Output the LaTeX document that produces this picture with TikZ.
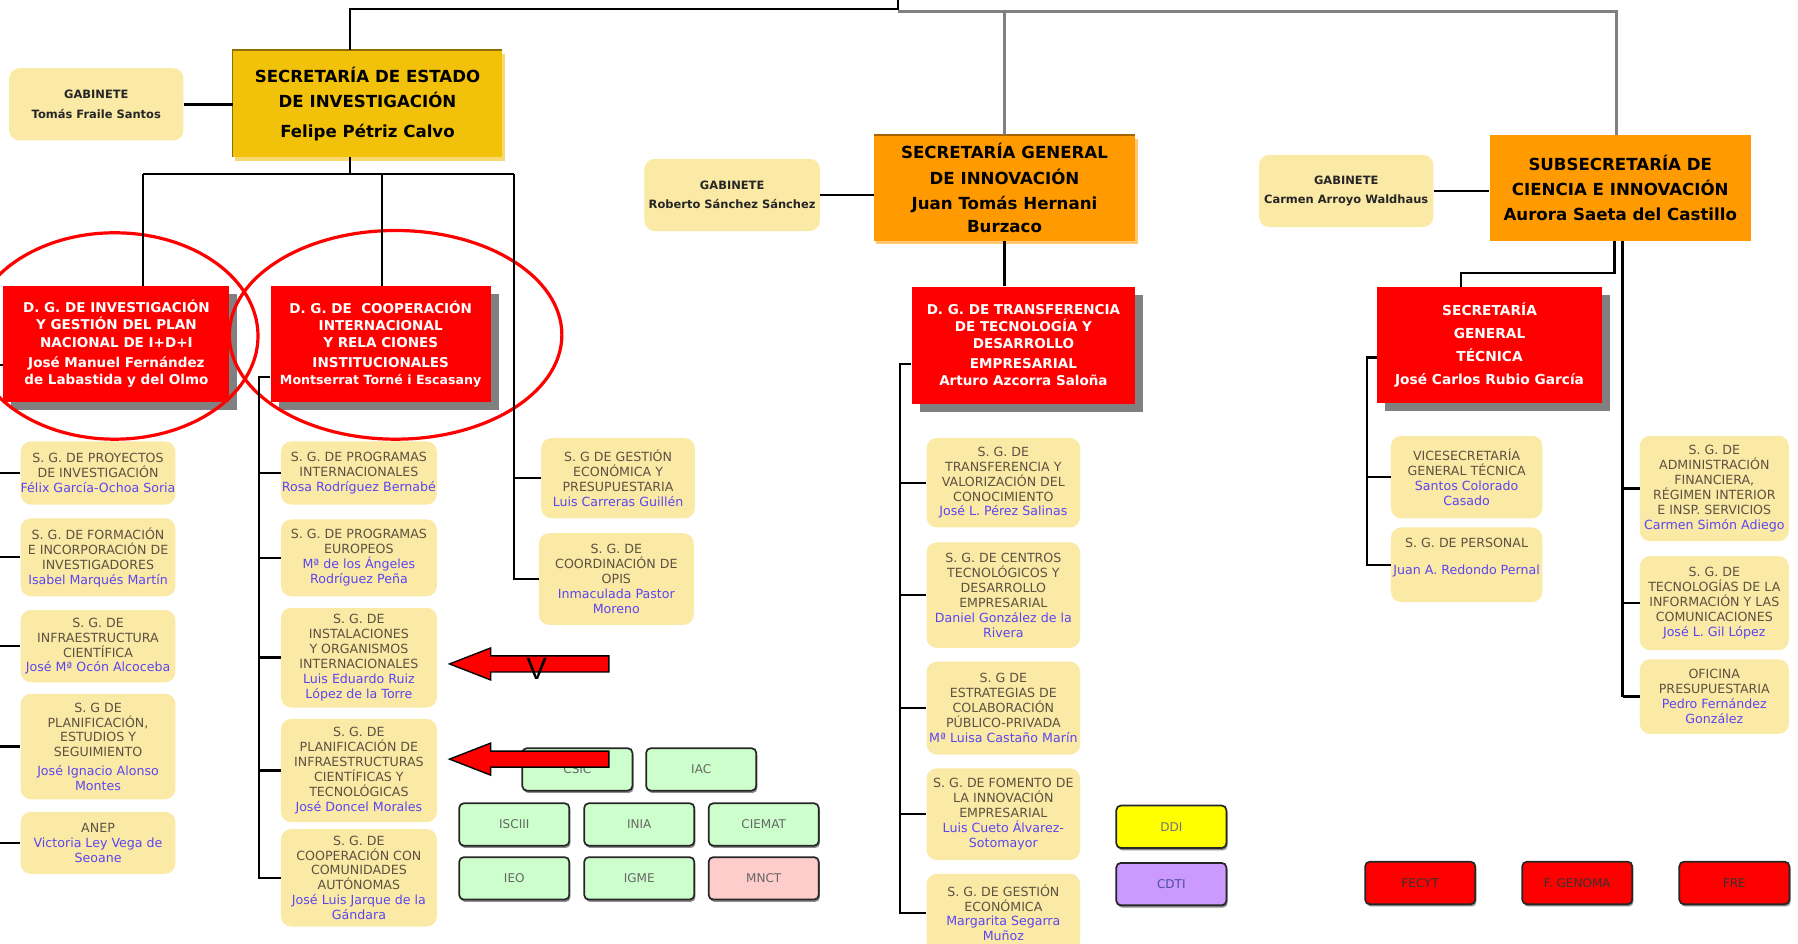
\documentclass[tikz,border=0pt]{standalone}
\usepackage{fontspec}
\setmainfont{DejaVu Sans}
\newfontfamily\vfont{Liberation Sans}
\usetikzlibrary{calc,shadows}
\definecolor{gold}{HTML}{F2C10A}
\definecolor{goldbd}{HTML}{8C7000}
\definecolor{goldsh}{HTML}{F8D870}
\definecolor{orng}{HTML}{FF9A00}
\definecolor{orngbd}{HTML}{A86400}
\definecolor{orngsh}{HTML}{FFC870}
\definecolor{sgfill}{HTML}{FBE9A6}
\definecolor{sgtext}{HTML}{5E5240}
\definecolor{sgname}{HTML}{5B46F0}
\definecolor{grn}{HTML}{CCFFCC}
\definecolor{pnk}{HTML}{FFCCCC}
\definecolor{ylw}{HTML}{FFFF00}
\definecolor{prp}{HTML}{CC99FF}
\newcommand\hdf{\fontsize{14.5}{22}\selectfont\bfseries}
\newcommand\rdf{\fontsize{11.8}{15}\selectfont\bfseries}
\newcommand\sgf{\fontsize{11}{13}\selectfont}
\newcommand\gbf{\fontsize{10}{17}\selectfont\bfseries}
\newcommand\smf{\fontsize{10.5}{11}\selectfont}
\newcommand\nm[1]{\textcolor{sgname}{#1}}
\tikzset{
  conn/.style={draw=black,line width=2},
  gconn/.style={draw=black!50,line width=2.5},
  sgbox/.style={fill=sgfill,rounded corners=9pt,align=center,inner sep=0pt,text=sgtext,font=\sgf,minimum width=135,minimum height=55},
  gabbox/.style={fill=sgfill,rounded corners=9pt,align=center,inner sep=0pt,text=black!85,font=\gbf,minimum width=152,minimum height=63},
  redbox/.style={fill=red,align=center,inner sep=0pt,text=white,font=\rdf,minimum width=196,minimum height=101,
    drop shadow={shadow xshift=7pt,shadow yshift=-7pt,fill=black!50,opacity=1}},
  instbox/.style={draw=black!85,line width=1.5,rounded corners=4pt,align=center,inner sep=0pt,text=black!60,font=\smf,minimum width=96,minimum height=37,
    drop shadow={shadow xshift=1pt,shadow yshift=-2pt,fill=black!45,opacity=1}},
  arrowshape/.style={fill=red,draw=black,line width=1.2,line join=miter},
  oval/.style={draw=red,line width=2.8}
}
\begin{document}
\begin{tikzpicture}[x=1pt,y=-1pt]
\useasboundingbox (0,0) rectangle (1568,823);
\fill[white] (0,0) rectangle (1568,823);

% ---------- top level boxes ----------
\node[fill=gold,align=center,inner sep=0pt,font=\hdf,minimum width=235,minimum height=93,
  drop shadow={shadow xshift=2pt,shadow yshift=-3pt,fill=goldsh,opacity=1}] (sei) at (320.5,90.5)
  {SECRETARÍA DE ESTADO\\DE INVESTIGACIÓN\\[4pt]Felipe Pétriz Calvo};
\draw[goldbd,line width=1.5] (sei.south west) -- (sei.north west) -- (sei.north east);

\node[fill=orng,align=center,inner sep=0pt,font=\hdf,minimum width=228,minimum height=92,
  drop shadow={shadow xshift=2pt,shadow yshift=-3pt,fill=orngsh,opacity=1}] (sgi) at (876,164)
  {\baselineskip=20pt SECRETARÍA GENERAL\\DE INNOVACIÓN\\Juan Tomás Hernani\\[-2pt]Burzaco};
\draw[orngbd,line width=1.5] (sgi.north west) -- (sgi.north east);

\node[fill=orng,align=center,inner sep=0pt,font=\hdf,minimum width=228,minimum height=92] (subsec) at (1413,164)
  {SUBSECRETARÍA DE\\CIENCIA E INNOVACIÓN\\Aurora Saeta del Castillo};

\node[gabbox] (gab1) at (84,91) {GABINETE\\Tomás Fraile Santos};
\node[gabbox,minimum width=153] (gab2) at (638.5,170) {GABINETE\\Roberto Sánchez Sánchez};
\node[gabbox] (gab3) at (1174,166.5) {GABINETE\\Carmen Arroyo Waldhaus};

% ---------- directorates ----------
\node[redbox,minimum width=197] (dg1) at (101.5,300)
  {D. G. DE INVESTIGACIÓN\\Y GESTIÓN DEL PLAN\\NACIONAL DE I+D+I\\[3pt]José Manuel Fernández\\de Labastida y del Olmo};
\node[redbox,minimum width=192] (dg2) at (332,300)
  {D. G. DE\ \ COOPERACIÓN\\INTERNACIONAL\\Y RELA CIONES\\[2pt]INSTITUCIONALES\\{\fontsize{11}{15}\selectfont Montserrat Torné i Escasany}};
\node[redbox,minimum width=195,minimum height=102] (dg3) at (892.5,301)
  {D. G. DE TRANSFERENCIA\\DE TECNOLOGÍA Y\\DESARROLLO\\[2pt]EMPRESARIAL\\Arturo Azcorra Saloña};
\node[redbox,font=\fontsize{12}{20}\selectfont\bfseries] (sgt) at (1299,301)
  {SECRETARÍA\\GENERAL\\TÉCNICA\\José Carlos Rubio García};

% ---------- ovals ----------
\draw[oval] (100,293) ellipse [x radius=125, y radius=90];
\draw[oval] (345,292) ellipse [x radius=145, y radius=91];

% ---------- left column ----------
\node[sgbox] (l1) at (85.5,412.5) {S. G. DE PROYECTOS\\DE INVESTIGACIÓN\\\nm{Félix García-Ochoa Soria}};
\node[sgbox,minimum height=68] (l2) at (85.5,486) {S. G. DE FORMACIÓN\\E INCORPORACIÓN DE\\INVESTIGADORES\\\nm{Isabel Marqués Martín}};
\node[sgbox,minimum height=63] (l3) at (85.5,563.5) {S. G. DE\\INFRAESTRUCTURA\\CIENTÍFICA\\\nm{José Mª Ocón Alcoceba}};
\node[sgbox,minimum height=92] (l4) at (85.5,651) {S. G DE\\PLANIFICACIÓN,\\ESTUDIOS Y\\SEGUIMIENTO\\[3pt]\nm{José Ignacio Alonso}\\\nm{Montes}};
\node[sgbox,minimum height=54] (l5) at (85.5,735) {ANEP\\\nm{Victoria Ley Vega de}\\\nm{Seoane}};

% ---------- middle column ----------
\node[sgbox,minimum width=136] (m1) at (313,412.5) {S. G. DE PROGRAMAS\\INTERNACIONALES\\\nm{Rosa Rodríguez Bernabé}};
\node[sgbox,minimum width=136,minimum height=67] (m2) at (313,486.5) {S. G. DE PROGRAMAS\\EUROPEOS\\\nm{Mª de los Ángeles}\\\nm{Rodríguez Peña}};
\node[sgbox,minimum width=136,minimum height=87] (m3) at (313,573.5) {S. G. DE\\INSTALACIONES\\Y ORGANISMOS\\INTERNACIONALES\\\nm{Luis Eduardo Ruiz}\\\nm{López de la Torre}};
\node[sgbox,minimum width=136,minimum height=90] (m4) at (313,672) {S. G. DE\\PLANIFICACIÓN DE\\INFRAESTRUCTURAS\\CIENTÍFICAS Y\\TECNOLÓGICAS\\\nm{José Doncel Morales}};
\node[sgbox,minimum width=136,minimum height=85] (m5) at (313,765.5) {S. G. DE\\COOPERACIÓN CON\\COMUNIDADES\\AUTÓNOMAS\\\nm{José Luis Jarque de la}\\\nm{Gándara}};

% ---------- right of SEI ----------
\node[sgbox,minimum width=134,minimum height=70] (r1) at (539,417) {S. G DE GESTIÓN\\ECONÓMICA Y\\PRESUPUESTARIA\\\nm{Luis Carreras Guillén}};
\node[sgbox,minimum width=135,minimum height=80] (r2) at (537.5,505) {S. G. DE\\COORDINACIÓN DE\\OPIS\\\nm{Inmaculada Pastor}\\\nm{Moreno}};

% ---------- DG3 column ----------
\node[sgbox,minimum width=134,minimum height=78] (t1) at (875,421) {S. G. DE\\TRANSFERENCIA Y\\VALORIZACIÓN DEL\\CONOCIMIENTO\\\nm{José L. Pérez Salinas}};
\node[sgbox,minimum width=134,minimum height=92] (t2) at (875,519) {S. G. DE CENTROS\\TECNOLÓGICOS Y\\DESARROLLO\\EMPRESARIAL\\\nm{Daniel González de la}\\\nm{Rivera}};
\node[sgbox,minimum width=134,minimum height=81] (t3) at (875,617.5) {S. G DE\\ESTRATEGIAS DE\\COLABORACIÓN\\PÚBLICO-PRIVADA\\\nm{Mª Luisa Castaño Marín}};
\node[sgbox,minimum width=134,minimum height=80] (t4) at (875,710) {S. G. DE FOMENTO DE\\LA INNOVACIÓN\\EMPRESARIAL\\\nm{Luis Cueto Álvarez-}\\\nm{Sotomayor}};
\node[sgbox,minimum width=134,minimum height=68] (t5) at (875,796) {S. G. DE GESTIÓN\\ECONÓMICA\\\nm{Margarita Segarra}\\\nm{Muñoz}};

% ---------- SGT column ----------
\node[sgbox,minimum width=132,minimum height=72] (s1) at (1279,416) {VICESECRETARÍA\\GENERAL TÉCNICA\\\nm{Santos Colorado}\\\nm{Casado}};
\node[sgbox,minimum width=132,minimum height=65] (s2) at (1279,492.5) {S. G. DE PERSONAL\\[10pt]\nm{Juan A. Redondo Pernal}\\[2pt]};

% ---------- far right column ----------
\node[sgbox,minimum width=130,minimum height=92] (f1) at (1495,426) {S. G. DE\\ADMINISTRACIÓN\\FINANCIERA,\\RÉGIMEN INTERIOR\\E INSP. SERVICIOS\\\nm{Carmen Simón Adiego}};
\node[sgbox,minimum width=130,minimum height=82] (f2) at (1495,526) {S. G. DE\\TECNOLOGÍAS DE LA\\INFORMACIÓN Y LAS\\COMUNICACIONES\\\nm{José L. Gil López}};
\node[sgbox,minimum width=130,minimum height=65] (f3) at (1495,607.5) {OFICINA\\PRESUPUESTARIA\\\nm{Pedro Fernández}\\\nm{González}};

% ---------- organisms ----------
\node[instbox,fill=grn] (csic) at (503.5,671) {CSIC};
\node[instbox,fill=grn] (iac) at (611.5,671) {IAC};
\node[instbox,fill=grn] (isciii) at (448.5,719) {ISCIII};
\node[instbox,fill=grn] (inia) at (557.5,719) {INIA};
\node[instbox,fill=grn] (ciemat) at (666,719) {CIEMAT};
\node[instbox,fill=grn] (ieo) at (448.5,766) {IEO};
\node[instbox,fill=grn] (igme) at (557.5,766) {IGME};
\node[instbox,fill=pnk] (mnct) at (666,766) {MNCT};
\node[instbox,fill=ylw,text=black!55] (ddi) at (1021.5,721) {DDI};
\node[instbox,fill=prp,text=blue!50!black!70] (cdti) at (1021.5,771) {CDTI};
\node[instbox,fill=red,text=black!80] (fecyt) at (1238.5,770) {FECYT};
\node[instbox,fill=red,text=black!80] (fgen) at (1375.5,770) {F. GENOMA};
\node[instbox,fill=red,text=black!80] (fre) at (1512.5,770) {FRE};

% ---------- connectors ----------
\coordinate (c305) at (305,0);
\coordinate (tj) at (783,8);
\coordinate (topend) at (783,0);
\coordinate (tg1) at (783,10);
\coordinate (tg2) at (1410,10);
\draw[conn] (sei.north -| c305) |- (tj) -- (topend);
\draw[gconn] (tg1) -- (tg2) -- (subsec.north -| tg2);
\draw[gconn] (sgi.north) -- (sgi.north |- tg1);

\draw[conn] (gab1.east) -- (gab1.east -| sei.west);
\draw[conn] (gab2.east) -- (gab2.east -| sgi.west);
\draw[conn] (gab3.east) -- (gab3.east -| subsec.west);

\coordinate (b1) at (125,152);
\coordinate (b2) at (333,152);
\coordinate (b3) at (448,152);
\draw[conn] (sei.south -| c305) -- (c305 |- b1);
\draw[conn] (b1) -- (b3);
\draw[conn] (b1) -- (b1 |- dg1.north);
\draw[conn] (b2) -- (b2 |- dg2.north);
\draw[conn] (b3) |- (r2.west);
\draw[conn] (b3 |- r1.west) -- (r1.west);

\coordinate (lx) at (-1.5,0);
\coordinate (dg1t) at (-1.5,318);
\draw[conn] (dg1t) -- (dg1t -| dg1.west);
\draw[conn] (dg1t) -- (lx |- l5.west);
\foreach \n in {l1,l2,l3,l4,l5} \draw[conn] (lx |- \n.west) -- (\n.west);

\coordinate (mx) at (226,0);
\draw[conn] ($(dg2.south west)+(0,-22)$) -| (mx |- m5.west) -- (m5.west);
\foreach \n in {m1,m2,m3,m4} \draw[conn] (mx |- \n.west) -- (\n.west);

\draw[conn] (sgi.south) -- (sgi.south |- dg3.north);
\coordinate (tx) at (785,0);
\draw[conn] ($(dg3.south west)+(0,-35)$) -| (tx |- t5.west) -- (t5.west);
\foreach \n in {t1,t2,t3,t4} \draw[conn] (tx |- \n.west) -- (\n.west);

\coordinate (sx1) at (1408,238);
\coordinate (sx2) at (1274,238);
\draw[conn] (subsec.south -| sx1) -- (sx1) -- (sx2) -- (sx2 |- sgt.north);
\coordinate (fx) at (1415,0);
\draw[conn,line width=3] (subsec.south -| fx) -- (fx |- f3.west);
\foreach \n in {f1,f2,f3} \draw[conn] (fx |- \n.west) -- (\n.west);

\coordinate (gx) at (1192,0);
\draw[conn] ($(sgt.south west)+(0,-40)$) -| (gx |- s2.west) -- (s2.west);
\draw[conn] (gx |- s1.west) -- (s1.west);

% ---------- red arrows ----------
\draw[arrowshape] (392,579) -- (428,565) -- (428,572) -- (531,572) -- (531,586) -- (428,586) -- (428,593) -- cycle;
\node[font=\vfont\fontsize{27}{27}\selectfont,inner sep=0pt] (vmark) at (468,583) {V};
\draw[arrowshape] (392,662) -- (428,648) -- (428,655) -- (531,655) -- (531,669) -- (428,669) -- (428,676) -- cycle;
\end{tikzpicture}
\end{document}
